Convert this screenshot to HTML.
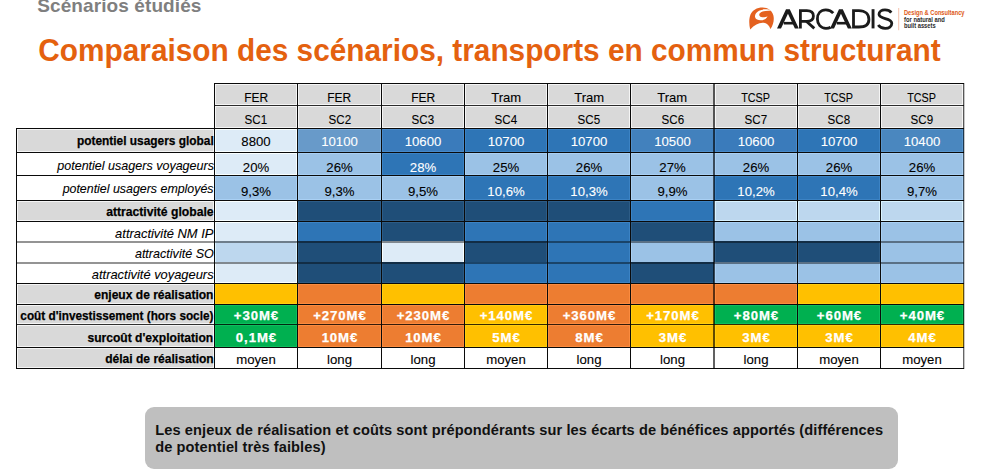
<!DOCTYPE html>
<html><head><meta charset="utf-8">
<style>
html,body{margin:0;padding:0;background:#fff;}
body{width:1000px;height:470px;position:relative;overflow:hidden;font-family:"Liberation Sans",sans-serif;}
#tbl div{position:absolute;}
#tbl .t{height:0;line-height:0;white-space:nowrap;-webkit-text-stroke:0.1px currentColor;}
#tbl .t span{display:inline-block;line-height:0;transform-origin:50% 0;}
#tbl .r span{transform-origin:100% 0;}
.abs{position:absolute;white-space:nowrap;line-height:0;height:0;top:0;}
.abs span{position:absolute;left:0;line-height:0;}
</style></head>
<body>
<div id="sub" class="abs" style="left:37.2px;font-size:19px;font-weight:bold;color:#7F7F7F;letter-spacing:0.1px;"><span style="top:6.12px">Scénarios étudiés</span></div>
<div id="title" class="abs" style="left:38.3px;font-size:29.8px;font-weight:bold;color:#E4610F;"><span style="top:51.27px;transform:scaleY(1.03);transform-origin:0 10.33px">Comparaison des scénarios, transports en commun structurant</span></div>

<svg style="position:absolute;left:0;top:0" width="1000" height="40" viewBox="0 0 1000 40">
  <path d="M750.2 29.4 C749 25 748.8 19 750.4 14.8 C752.2 10 757 7.4 762.6 7.4 C768 7.4 772.2 10.6 773.4 15.4 C774.4 19.6 773.4 25.2 770.4 28.9 C769.4 26 767.6 23.4 763.6 22.7 C759.5 22.2 754.6 24.6 750.2 29.4 Z" fill="#E4611F"/>
  <path d="M771.4 10.6 C768.5 9.2 763 8.7 759 10.7 C756 12.3 754.5 15 755.1 17.3 C755.8 19.7 758.6 20.5 761.2 20.3 C764.2 20.1 766.5 18.5 767.6 16.2 C765.9 17.2 763.2 17.7 761.2 17.1 C759.4 16.5 758.8 15 759.6 13.6 C760.6 11.9 763.2 11.2 765.6 11 C767.8 10.8 769.8 10.7 771.4 10.6 Z" fill="#fff"/>
  <g fill="#1b1b1b">
    <polygon points="777.0,28.4 786.0,9.2 789.8,9.2 798.8,28.4 794.9,28.4 787.95,13.7 781.0,28.4"/>
    <rect x="783.8" y="21.9" width="9.6" height="2.6"/>
    <polygon points="830.0,28.4 839.0,9.2 842.8,9.2 851.8,28.4 847.9,28.4 840.95,13.7 834.0,28.4"/>
    <rect x="836.8" y="21.9" width="11.2" height="2.6"/>
    <rect x="871.6" y="9.2" width="2.9" height="19.2"/>
  </g>
  <g fill="none" stroke="#1b1b1b" stroke-width="2.8">
    <path d="M800.4 28.4 L800.4 10.6 L806.8 10.6 C811.2 10.6 813.4 12.8 813.4 16 C813.4 19.2 811.2 21.3 806.8 21.3 L801.5 21.3"/>
    <path d="M806.3 21.3 L814.3 28.4"/>
    <path d="M833.2 13.2 C831.4 11 829 9.9 825.8 9.9 C820.6 9.9 817.4 13.8 817.4 19 C817.4 24.4 820.8 28.3 826 28.3 C827.8 28.3 829.4 27.9 830.6 27.2"/>
    <path d="M853.5 28.4 L853.5 10.6 L858.9 10.6 C865.3 10.6 868.9 14.4 868.9 19.4 C868.9 24.5 865.3 27.0 858.9 27.0 L852.2 27.0"/>
    <path d="M891.3 12.6 C889.8 10.6 887.5 9.9 885 9.9 C881.5 9.9 879 11.6 879 14.3 C879 19.8 891.8 17.4 891.8 23.3 C891.8 26.5 889 28.3 885.2 28.3 C882.2 28.3 879.7 27.1 878.2 25"/>
  </g>
  <rect x="898.2" y="8" width="1" height="22.2" fill="#F4C3AE"/>
  <text x="904" y="14.6" font-family="Liberation Sans" font-weight="bold" font-size="6.4" fill="#DD5814" textLength="60.5" lengthAdjust="spacingAndGlyphs">Design &amp; Consultancy</text>
  <text x="904" y="21.6" font-family="Liberation Sans" font-weight="bold" font-size="6.4" fill="#2a2a2a" textLength="40.8" lengthAdjust="spacingAndGlyphs">for natural and</text>
  <text x="904" y="27.8" font-family="Liberation Sans" font-weight="bold" font-size="6.4" fill="#2a2a2a" textLength="31.6" lengthAdjust="spacingAndGlyphs">built assets</text>
</svg>

<div id="tbl">
<div style="left:214px;top:83px;width:84px;height:23px;background:#D9D9D9;"></div>
<div style="left:215px;top:84px;width:82px;height:1px;background:#f5f5f5;"></div>
<div style="left:215px;top:104px;width:82px;height:1px;background:#f5f5f5;"></div>
<div style="left:215px;top:84px;width:1px;height:21px;background:#f5f5f5;"></div>
<div style="left:296px;top:84px;width:1px;height:21px;background:#f5f5f5;"></div>
<div style="left:214px;top:105px;width:84px;height:24px;background:#D9D9D9;"></div>
<div style="left:215px;top:106px;width:82px;height:1px;background:#f5f5f5;"></div>
<div style="left:215px;top:127px;width:82px;height:1px;background:#f5f5f5;"></div>
<div style="left:215px;top:106px;width:1px;height:22px;background:#f5f5f5;"></div>
<div style="left:296px;top:106px;width:1px;height:22px;background:#f5f5f5;"></div>
<div style="left:297px;top:83px;width:85px;height:23px;background:#D9D9D9;"></div>
<div style="left:298px;top:84px;width:83px;height:1px;background:#f5f5f5;"></div>
<div style="left:298px;top:104px;width:83px;height:1px;background:#f5f5f5;"></div>
<div style="left:298px;top:84px;width:1px;height:21px;background:#f5f5f5;"></div>
<div style="left:380px;top:84px;width:1px;height:21px;background:#f5f5f5;"></div>
<div style="left:297px;top:105px;width:85px;height:24px;background:#D9D9D9;"></div>
<div style="left:298px;top:106px;width:83px;height:1px;background:#f5f5f5;"></div>
<div style="left:298px;top:127px;width:83px;height:1px;background:#f5f5f5;"></div>
<div style="left:298px;top:106px;width:1px;height:22px;background:#f5f5f5;"></div>
<div style="left:380px;top:106px;width:1px;height:22px;background:#f5f5f5;"></div>
<div style="left:381px;top:83px;width:84px;height:23px;background:#D9D9D9;"></div>
<div style="left:382px;top:84px;width:82px;height:1px;background:#f5f5f5;"></div>
<div style="left:382px;top:104px;width:82px;height:1px;background:#f5f5f5;"></div>
<div style="left:382px;top:84px;width:1px;height:21px;background:#f5f5f5;"></div>
<div style="left:463px;top:84px;width:1px;height:21px;background:#f5f5f5;"></div>
<div style="left:381px;top:105px;width:84px;height:24px;background:#D9D9D9;"></div>
<div style="left:382px;top:106px;width:82px;height:1px;background:#f5f5f5;"></div>
<div style="left:382px;top:127px;width:82px;height:1px;background:#f5f5f5;"></div>
<div style="left:382px;top:106px;width:1px;height:22px;background:#f5f5f5;"></div>
<div style="left:463px;top:106px;width:1px;height:22px;background:#f5f5f5;"></div>
<div style="left:464px;top:83px;width:84px;height:23px;background:#D9D9D9;"></div>
<div style="left:465px;top:84px;width:82px;height:1px;background:#f5f5f5;"></div>
<div style="left:465px;top:104px;width:82px;height:1px;background:#f5f5f5;"></div>
<div style="left:465px;top:84px;width:1px;height:21px;background:#f5f5f5;"></div>
<div style="left:546px;top:84px;width:1px;height:21px;background:#f5f5f5;"></div>
<div style="left:464px;top:105px;width:84px;height:24px;background:#D9D9D9;"></div>
<div style="left:465px;top:106px;width:82px;height:1px;background:#f5f5f5;"></div>
<div style="left:465px;top:127px;width:82px;height:1px;background:#f5f5f5;"></div>
<div style="left:465px;top:106px;width:1px;height:22px;background:#f5f5f5;"></div>
<div style="left:546px;top:106px;width:1px;height:22px;background:#f5f5f5;"></div>
<div style="left:547px;top:83px;width:84px;height:23px;background:#D9D9D9;"></div>
<div style="left:548px;top:84px;width:82px;height:1px;background:#f5f5f5;"></div>
<div style="left:548px;top:104px;width:82px;height:1px;background:#f5f5f5;"></div>
<div style="left:548px;top:84px;width:1px;height:21px;background:#f5f5f5;"></div>
<div style="left:629px;top:84px;width:1px;height:21px;background:#f5f5f5;"></div>
<div style="left:547px;top:105px;width:84px;height:24px;background:#D9D9D9;"></div>
<div style="left:548px;top:106px;width:82px;height:1px;background:#f5f5f5;"></div>
<div style="left:548px;top:127px;width:82px;height:1px;background:#f5f5f5;"></div>
<div style="left:548px;top:106px;width:1px;height:22px;background:#f5f5f5;"></div>
<div style="left:629px;top:106px;width:1px;height:22px;background:#f5f5f5;"></div>
<div style="left:630px;top:83px;width:85px;height:23px;background:#D9D9D9;"></div>
<div style="left:631px;top:84px;width:83px;height:1px;background:#f5f5f5;"></div>
<div style="left:631px;top:104px;width:83px;height:1px;background:#f5f5f5;"></div>
<div style="left:631px;top:84px;width:1px;height:21px;background:#f5f5f5;"></div>
<div style="left:630px;top:105px;width:85px;height:24px;background:#D9D9D9;"></div>
<div style="left:631px;top:106px;width:83px;height:1px;background:#f5f5f5;"></div>
<div style="left:631px;top:127px;width:83px;height:1px;background:#f5f5f5;"></div>
<div style="left:631px;top:106px;width:1px;height:22px;background:#f5f5f5;"></div>
<div style="left:714px;top:83px;width:84px;height:23px;background:#D9D9D9;"></div>
<div style="left:715px;top:84px;width:82px;height:1px;background:#f5f5f5;"></div>
<div style="left:715px;top:104px;width:82px;height:1px;background:#f5f5f5;"></div>
<div style="left:715px;top:84px;width:1px;height:21px;background:#f5f5f5;"></div>
<div style="left:796px;top:84px;width:1px;height:21px;background:#f5f5f5;"></div>
<div style="left:714px;top:105px;width:84px;height:24px;background:#D9D9D9;"></div>
<div style="left:715px;top:106px;width:82px;height:1px;background:#f5f5f5;"></div>
<div style="left:715px;top:127px;width:82px;height:1px;background:#f5f5f5;"></div>
<div style="left:715px;top:106px;width:1px;height:22px;background:#f5f5f5;"></div>
<div style="left:796px;top:106px;width:1px;height:22px;background:#f5f5f5;"></div>
<div style="left:797px;top:83px;width:84px;height:23px;background:#D9D9D9;"></div>
<div style="left:798px;top:84px;width:82px;height:1px;background:#f5f5f5;"></div>
<div style="left:798px;top:104px;width:82px;height:1px;background:#f5f5f5;"></div>
<div style="left:798px;top:84px;width:1px;height:21px;background:#f5f5f5;"></div>
<div style="left:879px;top:84px;width:1px;height:21px;background:#f5f5f5;"></div>
<div style="left:797px;top:105px;width:84px;height:24px;background:#D9D9D9;"></div>
<div style="left:798px;top:106px;width:82px;height:1px;background:#f5f5f5;"></div>
<div style="left:798px;top:127px;width:82px;height:1px;background:#f5f5f5;"></div>
<div style="left:798px;top:106px;width:1px;height:22px;background:#f5f5f5;"></div>
<div style="left:879px;top:106px;width:1px;height:22px;background:#f5f5f5;"></div>
<div style="left:880px;top:83px;width:84px;height:23px;background:#D9D9D9;"></div>
<div style="left:881px;top:84px;width:82px;height:1px;background:#f5f5f5;"></div>
<div style="left:881px;top:104px;width:82px;height:1px;background:#f5f5f5;"></div>
<div style="left:881px;top:84px;width:1px;height:21px;background:#f5f5f5;"></div>
<div style="left:962px;top:84px;width:1px;height:21px;background:#f5f5f5;"></div>
<div style="left:880px;top:105px;width:84px;height:24px;background:#D9D9D9;"></div>
<div style="left:881px;top:106px;width:82px;height:1px;background:#f5f5f5;"></div>
<div style="left:881px;top:127px;width:82px;height:1px;background:#f5f5f5;"></div>
<div style="left:881px;top:106px;width:1px;height:22px;background:#f5f5f5;"></div>
<div style="left:962px;top:106px;width:1px;height:22px;background:#f5f5f5;"></div>
<div style="left:16px;top:128px;width:199px;height:25px;background:#D9D9D9;"></div>
<div style="left:17px;top:129px;width:197px;height:1px;background:#f5f5f5;"></div>
<div style="left:17px;top:151px;width:197px;height:1px;background:#f5f5f5;"></div>
<div style="left:17px;top:129px;width:1px;height:23px;background:#f5f5f5;"></div>
<div style="left:213px;top:129px;width:1px;height:23px;background:#f5f5f5;"></div>
<div style="left:214px;top:128px;width:84px;height:25px;background:#DDEBF7;"></div>
<div style="left:215px;top:129px;width:82px;height:1px;background:#f9ffff;"></div>
<div style="left:215px;top:151px;width:82px;height:1px;background:#f9ffff;"></div>
<div style="left:215px;top:129px;width:1px;height:23px;background:#f9ffff;"></div>
<div style="left:296px;top:129px;width:1px;height:23px;background:#f9ffff;"></div>
<div style="left:297px;top:128px;width:85px;height:25px;background:#689AC9;"></div>
<div style="left:298px;top:129px;width:83px;height:1px;background:#76a8d7;"></div>
<div style="left:298px;top:151px;width:83px;height:1px;background:#76a8d7;"></div>
<div style="left:298px;top:129px;width:1px;height:23px;background:#76a8d7;"></div>
<div style="left:380px;top:129px;width:1px;height:23px;background:#76a8d7;"></div>
<div style="left:381px;top:128px;width:84px;height:25px;background:#3A7BBB;"></div>
<div style="left:382px;top:129px;width:82px;height:1px;background:#4889c9;"></div>
<div style="left:382px;top:151px;width:82px;height:1px;background:#4889c9;"></div>
<div style="left:382px;top:129px;width:1px;height:23px;background:#4889c9;"></div>
<div style="left:463px;top:129px;width:1px;height:23px;background:#4889c9;"></div>
<div style="left:464px;top:128px;width:84px;height:25px;background:#2E75B6;"></div>
<div style="left:465px;top:129px;width:82px;height:1px;background:#3c83c4;"></div>
<div style="left:465px;top:151px;width:82px;height:1px;background:#3c83c4;"></div>
<div style="left:465px;top:129px;width:1px;height:23px;background:#3c83c4;"></div>
<div style="left:546px;top:129px;width:1px;height:23px;background:#3c83c4;"></div>
<div style="left:547px;top:128px;width:84px;height:25px;background:#2E75B6;"></div>
<div style="left:548px;top:129px;width:82px;height:1px;background:#3c83c4;"></div>
<div style="left:548px;top:151px;width:82px;height:1px;background:#3c83c4;"></div>
<div style="left:548px;top:129px;width:1px;height:23px;background:#3c83c4;"></div>
<div style="left:629px;top:129px;width:1px;height:23px;background:#3c83c4;"></div>
<div style="left:630px;top:128px;width:85px;height:25px;background:#4281BD;"></div>
<div style="left:631px;top:129px;width:83px;height:1px;background:#508fcb;"></div>
<div style="left:631px;top:151px;width:83px;height:1px;background:#508fcb;"></div>
<div style="left:631px;top:129px;width:1px;height:23px;background:#508fcb;"></div>
<div style="left:714px;top:128px;width:84px;height:25px;background:#3A7BBB;"></div>
<div style="left:715px;top:129px;width:82px;height:1px;background:#4889c9;"></div>
<div style="left:715px;top:151px;width:82px;height:1px;background:#4889c9;"></div>
<div style="left:715px;top:129px;width:1px;height:23px;background:#4889c9;"></div>
<div style="left:796px;top:129px;width:1px;height:23px;background:#4889c9;"></div>
<div style="left:797px;top:128px;width:84px;height:25px;background:#2E75B6;"></div>
<div style="left:798px;top:129px;width:82px;height:1px;background:#3c83c4;"></div>
<div style="left:798px;top:151px;width:82px;height:1px;background:#3c83c4;"></div>
<div style="left:798px;top:129px;width:1px;height:23px;background:#3c83c4;"></div>
<div style="left:879px;top:129px;width:1px;height:23px;background:#3c83c4;"></div>
<div style="left:880px;top:128px;width:84px;height:25px;background:#4A87BF;"></div>
<div style="left:881px;top:129px;width:82px;height:1px;background:#5895cd;"></div>
<div style="left:881px;top:151px;width:82px;height:1px;background:#5895cd;"></div>
<div style="left:881px;top:129px;width:1px;height:23px;background:#5895cd;"></div>
<div style="left:962px;top:129px;width:1px;height:23px;background:#5895cd;"></div>
<div style="left:214px;top:152px;width:84px;height:24px;background:#DDEBF7;"></div>
<div style="left:215px;top:153px;width:82px;height:1px;background:#f9ffff;"></div>
<div style="left:215px;top:174px;width:82px;height:1px;background:#f9ffff;"></div>
<div style="left:215px;top:153px;width:1px;height:22px;background:#f9ffff;"></div>
<div style="left:296px;top:153px;width:1px;height:22px;background:#f9ffff;"></div>
<div style="left:297px;top:152px;width:85px;height:24px;background:#9BC2E6;"></div>
<div style="left:298px;top:153px;width:83px;height:1px;background:#a9d0f4;"></div>
<div style="left:298px;top:174px;width:83px;height:1px;background:#a9d0f4;"></div>
<div style="left:298px;top:153px;width:1px;height:22px;background:#a9d0f4;"></div>
<div style="left:380px;top:153px;width:1px;height:22px;background:#a9d0f4;"></div>
<div style="left:381px;top:152px;width:84px;height:24px;background:#2E75B6;"></div>
<div style="left:382px;top:153px;width:82px;height:1px;background:#3c83c4;"></div>
<div style="left:382px;top:174px;width:82px;height:1px;background:#3c83c4;"></div>
<div style="left:382px;top:153px;width:1px;height:22px;background:#3c83c4;"></div>
<div style="left:463px;top:153px;width:1px;height:22px;background:#3c83c4;"></div>
<div style="left:464px;top:152px;width:84px;height:24px;background:#9BC2E6;"></div>
<div style="left:465px;top:153px;width:82px;height:1px;background:#a9d0f4;"></div>
<div style="left:465px;top:174px;width:82px;height:1px;background:#a9d0f4;"></div>
<div style="left:465px;top:153px;width:1px;height:22px;background:#a9d0f4;"></div>
<div style="left:546px;top:153px;width:1px;height:22px;background:#a9d0f4;"></div>
<div style="left:547px;top:152px;width:84px;height:24px;background:#9BC2E6;"></div>
<div style="left:548px;top:153px;width:82px;height:1px;background:#a9d0f4;"></div>
<div style="left:548px;top:174px;width:82px;height:1px;background:#a9d0f4;"></div>
<div style="left:548px;top:153px;width:1px;height:22px;background:#a9d0f4;"></div>
<div style="left:629px;top:153px;width:1px;height:22px;background:#a9d0f4;"></div>
<div style="left:630px;top:152px;width:85px;height:24px;background:#9BC2E6;"></div>
<div style="left:631px;top:153px;width:83px;height:1px;background:#a9d0f4;"></div>
<div style="left:631px;top:174px;width:83px;height:1px;background:#a9d0f4;"></div>
<div style="left:631px;top:153px;width:1px;height:22px;background:#a9d0f4;"></div>
<div style="left:714px;top:152px;width:84px;height:24px;background:#9BC2E6;"></div>
<div style="left:715px;top:153px;width:82px;height:1px;background:#a9d0f4;"></div>
<div style="left:715px;top:174px;width:82px;height:1px;background:#a9d0f4;"></div>
<div style="left:715px;top:153px;width:1px;height:22px;background:#a9d0f4;"></div>
<div style="left:796px;top:153px;width:1px;height:22px;background:#a9d0f4;"></div>
<div style="left:797px;top:152px;width:84px;height:24px;background:#9BC2E6;"></div>
<div style="left:798px;top:153px;width:82px;height:1px;background:#a9d0f4;"></div>
<div style="left:798px;top:174px;width:82px;height:1px;background:#a9d0f4;"></div>
<div style="left:798px;top:153px;width:1px;height:22px;background:#a9d0f4;"></div>
<div style="left:879px;top:153px;width:1px;height:22px;background:#a9d0f4;"></div>
<div style="left:880px;top:152px;width:84px;height:24px;background:#9BC2E6;"></div>
<div style="left:881px;top:153px;width:82px;height:1px;background:#a9d0f4;"></div>
<div style="left:881px;top:174px;width:82px;height:1px;background:#a9d0f4;"></div>
<div style="left:881px;top:153px;width:1px;height:22px;background:#a9d0f4;"></div>
<div style="left:962px;top:153px;width:1px;height:22px;background:#a9d0f4;"></div>
<div style="left:214px;top:175px;width:84px;height:26px;background:#9BC2E6;"></div>
<div style="left:215px;top:176px;width:82px;height:1px;background:#a9d0f4;"></div>
<div style="left:215px;top:199px;width:82px;height:1px;background:#a9d0f4;"></div>
<div style="left:215px;top:176px;width:1px;height:24px;background:#a9d0f4;"></div>
<div style="left:296px;top:176px;width:1px;height:24px;background:#a9d0f4;"></div>
<div style="left:297px;top:175px;width:85px;height:26px;background:#9BC2E6;"></div>
<div style="left:298px;top:176px;width:83px;height:1px;background:#a9d0f4;"></div>
<div style="left:298px;top:199px;width:83px;height:1px;background:#a9d0f4;"></div>
<div style="left:298px;top:176px;width:1px;height:24px;background:#a9d0f4;"></div>
<div style="left:380px;top:176px;width:1px;height:24px;background:#a9d0f4;"></div>
<div style="left:381px;top:175px;width:84px;height:26px;background:#9BC2E6;"></div>
<div style="left:382px;top:176px;width:82px;height:1px;background:#a9d0f4;"></div>
<div style="left:382px;top:199px;width:82px;height:1px;background:#a9d0f4;"></div>
<div style="left:382px;top:176px;width:1px;height:24px;background:#a9d0f4;"></div>
<div style="left:463px;top:176px;width:1px;height:24px;background:#a9d0f4;"></div>
<div style="left:464px;top:175px;width:84px;height:26px;background:#2E75B6;"></div>
<div style="left:465px;top:176px;width:82px;height:1px;background:#3c83c4;"></div>
<div style="left:465px;top:199px;width:82px;height:1px;background:#3c83c4;"></div>
<div style="left:465px;top:176px;width:1px;height:24px;background:#3c83c4;"></div>
<div style="left:546px;top:176px;width:1px;height:24px;background:#3c83c4;"></div>
<div style="left:547px;top:175px;width:84px;height:26px;background:#2E75B6;"></div>
<div style="left:548px;top:176px;width:82px;height:1px;background:#3c83c4;"></div>
<div style="left:548px;top:199px;width:82px;height:1px;background:#3c83c4;"></div>
<div style="left:548px;top:176px;width:1px;height:24px;background:#3c83c4;"></div>
<div style="left:629px;top:176px;width:1px;height:24px;background:#3c83c4;"></div>
<div style="left:630px;top:175px;width:85px;height:26px;background:#9BC2E6;"></div>
<div style="left:631px;top:176px;width:83px;height:1px;background:#a9d0f4;"></div>
<div style="left:631px;top:199px;width:83px;height:1px;background:#a9d0f4;"></div>
<div style="left:631px;top:176px;width:1px;height:24px;background:#a9d0f4;"></div>
<div style="left:714px;top:175px;width:84px;height:26px;background:#2E75B6;"></div>
<div style="left:715px;top:176px;width:82px;height:1px;background:#3c83c4;"></div>
<div style="left:715px;top:199px;width:82px;height:1px;background:#3c83c4;"></div>
<div style="left:715px;top:176px;width:1px;height:24px;background:#3c83c4;"></div>
<div style="left:796px;top:176px;width:1px;height:24px;background:#3c83c4;"></div>
<div style="left:797px;top:175px;width:84px;height:26px;background:#2E75B6;"></div>
<div style="left:798px;top:176px;width:82px;height:1px;background:#3c83c4;"></div>
<div style="left:798px;top:199px;width:82px;height:1px;background:#3c83c4;"></div>
<div style="left:798px;top:176px;width:1px;height:24px;background:#3c83c4;"></div>
<div style="left:879px;top:176px;width:1px;height:24px;background:#3c83c4;"></div>
<div style="left:880px;top:175px;width:84px;height:26px;background:#9BC2E6;"></div>
<div style="left:881px;top:176px;width:82px;height:1px;background:#a9d0f4;"></div>
<div style="left:881px;top:199px;width:82px;height:1px;background:#a9d0f4;"></div>
<div style="left:881px;top:176px;width:1px;height:24px;background:#a9d0f4;"></div>
<div style="left:962px;top:176px;width:1px;height:24px;background:#a9d0f4;"></div>
<div style="left:16px;top:200px;width:199px;height:22px;background:#D9D9D9;"></div>
<div style="left:17px;top:201px;width:197px;height:1px;background:#f5f5f5;"></div>
<div style="left:17px;top:220px;width:197px;height:1px;background:#f5f5f5;"></div>
<div style="left:17px;top:201px;width:1px;height:20px;background:#f5f5f5;"></div>
<div style="left:213px;top:201px;width:1px;height:20px;background:#f5f5f5;"></div>
<div style="left:214px;top:200px;width:84px;height:22px;background:#DDEBF7;"></div>
<div style="left:215px;top:201px;width:82px;height:1px;background:#f9ffff;"></div>
<div style="left:215px;top:220px;width:82px;height:1px;background:#f9ffff;"></div>
<div style="left:215px;top:201px;width:1px;height:20px;background:#f9ffff;"></div>
<div style="left:296px;top:201px;width:1px;height:20px;background:#f9ffff;"></div>
<div style="left:297px;top:200px;width:85px;height:22px;background:#1F4E78;"></div>
<div style="left:298px;top:201px;width:83px;height:1px;background:#2d5c86;"></div>
<div style="left:298px;top:220px;width:83px;height:1px;background:#2d5c86;"></div>
<div style="left:298px;top:201px;width:1px;height:20px;background:#2d5c86;"></div>
<div style="left:380px;top:201px;width:1px;height:20px;background:#2d5c86;"></div>
<div style="left:381px;top:200px;width:84px;height:22px;background:#1F4E78;"></div>
<div style="left:382px;top:201px;width:82px;height:1px;background:#2d5c86;"></div>
<div style="left:382px;top:220px;width:82px;height:1px;background:#2d5c86;"></div>
<div style="left:382px;top:201px;width:1px;height:20px;background:#2d5c86;"></div>
<div style="left:463px;top:201px;width:1px;height:20px;background:#2d5c86;"></div>
<div style="left:464px;top:200px;width:84px;height:22px;background:#1F4E78;"></div>
<div style="left:465px;top:201px;width:82px;height:1px;background:#2d5c86;"></div>
<div style="left:465px;top:220px;width:82px;height:1px;background:#2d5c86;"></div>
<div style="left:465px;top:201px;width:1px;height:20px;background:#2d5c86;"></div>
<div style="left:546px;top:201px;width:1px;height:20px;background:#2d5c86;"></div>
<div style="left:547px;top:200px;width:84px;height:22px;background:#1F4E78;"></div>
<div style="left:548px;top:201px;width:82px;height:1px;background:#2d5c86;"></div>
<div style="left:548px;top:220px;width:82px;height:1px;background:#2d5c86;"></div>
<div style="left:548px;top:201px;width:1px;height:20px;background:#2d5c86;"></div>
<div style="left:629px;top:201px;width:1px;height:20px;background:#2d5c86;"></div>
<div style="left:630px;top:200px;width:85px;height:22px;background:#2E75B6;"></div>
<div style="left:631px;top:201px;width:83px;height:1px;background:#3c83c4;"></div>
<div style="left:631px;top:220px;width:83px;height:1px;background:#3c83c4;"></div>
<div style="left:631px;top:201px;width:1px;height:20px;background:#3c83c4;"></div>
<div style="left:714px;top:200px;width:84px;height:22px;background:#BDD7EE;"></div>
<div style="left:715px;top:201px;width:82px;height:1px;background:#d9f3ff;"></div>
<div style="left:715px;top:220px;width:82px;height:1px;background:#d9f3ff;"></div>
<div style="left:715px;top:201px;width:1px;height:20px;background:#d9f3ff;"></div>
<div style="left:796px;top:201px;width:1px;height:20px;background:#d9f3ff;"></div>
<div style="left:797px;top:200px;width:84px;height:22px;background:#BDD7EE;"></div>
<div style="left:798px;top:201px;width:82px;height:1px;background:#d9f3ff;"></div>
<div style="left:798px;top:220px;width:82px;height:1px;background:#d9f3ff;"></div>
<div style="left:798px;top:201px;width:1px;height:20px;background:#d9f3ff;"></div>
<div style="left:879px;top:201px;width:1px;height:20px;background:#d9f3ff;"></div>
<div style="left:880px;top:200px;width:84px;height:22px;background:#BDD7EE;"></div>
<div style="left:881px;top:201px;width:82px;height:1px;background:#d9f3ff;"></div>
<div style="left:881px;top:220px;width:82px;height:1px;background:#d9f3ff;"></div>
<div style="left:881px;top:201px;width:1px;height:20px;background:#d9f3ff;"></div>
<div style="left:962px;top:201px;width:1px;height:20px;background:#d9f3ff;"></div>
<div style="left:214px;top:221px;width:84px;height:21px;background:#DDEBF7;"></div>
<div style="left:215px;top:222px;width:82px;height:1px;background:#f9ffff;"></div>
<div style="left:215px;top:222px;width:1px;height:19px;background:#f9ffff;"></div>
<div style="left:296px;top:222px;width:1px;height:19px;background:#f9ffff;"></div>
<div style="left:297px;top:221px;width:85px;height:21px;background:#2E75B6;"></div>
<div style="left:298px;top:222px;width:83px;height:1px;background:#3c83c4;"></div>
<div style="left:298px;top:222px;width:1px;height:19px;background:#3c83c4;"></div>
<div style="left:380px;top:222px;width:1px;height:19px;background:#3c83c4;"></div>
<div style="left:381px;top:221px;width:84px;height:21px;background:#1F4E78;"></div>
<div style="left:382px;top:222px;width:82px;height:1px;background:#2d5c86;"></div>
<div style="left:382px;top:222px;width:1px;height:19px;background:#2d5c86;"></div>
<div style="left:463px;top:222px;width:1px;height:19px;background:#2d5c86;"></div>
<div style="left:464px;top:221px;width:84px;height:21px;background:#2E75B6;"></div>
<div style="left:465px;top:222px;width:82px;height:1px;background:#3c83c4;"></div>
<div style="left:465px;top:222px;width:1px;height:19px;background:#3c83c4;"></div>
<div style="left:546px;top:222px;width:1px;height:19px;background:#3c83c4;"></div>
<div style="left:547px;top:221px;width:84px;height:21px;background:#2E75B6;"></div>
<div style="left:548px;top:222px;width:82px;height:1px;background:#3c83c4;"></div>
<div style="left:548px;top:222px;width:1px;height:19px;background:#3c83c4;"></div>
<div style="left:629px;top:222px;width:1px;height:19px;background:#3c83c4;"></div>
<div style="left:630px;top:221px;width:85px;height:21px;background:#1F4E78;"></div>
<div style="left:631px;top:222px;width:83px;height:1px;background:#2d5c86;"></div>
<div style="left:631px;top:222px;width:1px;height:19px;background:#2d5c86;"></div>
<div style="left:714px;top:221px;width:84px;height:21px;background:#9BC2E6;"></div>
<div style="left:715px;top:222px;width:82px;height:1px;background:#a9d0f4;"></div>
<div style="left:715px;top:222px;width:1px;height:19px;background:#a9d0f4;"></div>
<div style="left:796px;top:222px;width:1px;height:19px;background:#a9d0f4;"></div>
<div style="left:797px;top:221px;width:84px;height:21px;background:#9BC2E6;"></div>
<div style="left:798px;top:222px;width:82px;height:1px;background:#a9d0f4;"></div>
<div style="left:798px;top:222px;width:1px;height:19px;background:#a9d0f4;"></div>
<div style="left:879px;top:222px;width:1px;height:19px;background:#a9d0f4;"></div>
<div style="left:880px;top:221px;width:84px;height:21px;background:#9BC2E6;"></div>
<div style="left:881px;top:222px;width:82px;height:1px;background:#a9d0f4;"></div>
<div style="left:881px;top:222px;width:1px;height:19px;background:#a9d0f4;"></div>
<div style="left:962px;top:222px;width:1px;height:19px;background:#a9d0f4;"></div>
<div style="left:214px;top:241px;width:84px;height:22px;background:#BDD7EE;"></div>
<div style="left:215px;top:242px;width:1px;height:20px;background:#d9f3ff;"></div>
<div style="left:296px;top:242px;width:1px;height:20px;background:#d9f3ff;"></div>
<div style="left:297px;top:241px;width:85px;height:22px;background:#1F4E78;"></div>
<div style="left:298px;top:242px;width:1px;height:20px;background:#2d5c86;"></div>
<div style="left:380px;top:242px;width:1px;height:20px;background:#2d5c86;"></div>
<div style="left:381px;top:241px;width:84px;height:22px;background:#DDEBF7;"></div>
<div style="left:382px;top:242px;width:1px;height:20px;background:#f9ffff;"></div>
<div style="left:463px;top:242px;width:1px;height:20px;background:#f9ffff;"></div>
<div style="left:464px;top:241px;width:84px;height:22px;background:#1F4E78;"></div>
<div style="left:465px;top:242px;width:1px;height:20px;background:#2d5c86;"></div>
<div style="left:546px;top:242px;width:1px;height:20px;background:#2d5c86;"></div>
<div style="left:547px;top:241px;width:84px;height:22px;background:#2E75B6;"></div>
<div style="left:548px;top:242px;width:1px;height:20px;background:#3c83c4;"></div>
<div style="left:629px;top:242px;width:1px;height:20px;background:#3c83c4;"></div>
<div style="left:630px;top:241px;width:85px;height:22px;background:#9BC2E6;"></div>
<div style="left:631px;top:242px;width:1px;height:20px;background:#a9d0f4;"></div>
<div style="left:714px;top:241px;width:84px;height:22px;background:#1F4E78;"></div>
<div style="left:715px;top:242px;width:1px;height:20px;background:#2d5c86;"></div>
<div style="left:796px;top:242px;width:1px;height:20px;background:#2d5c86;"></div>
<div style="left:797px;top:241px;width:84px;height:22px;background:#1F4E78;"></div>
<div style="left:798px;top:242px;width:1px;height:20px;background:#2d5c86;"></div>
<div style="left:879px;top:242px;width:1px;height:20px;background:#2d5c86;"></div>
<div style="left:880px;top:241px;width:84px;height:22px;background:#9BC2E6;"></div>
<div style="left:881px;top:242px;width:1px;height:20px;background:#a9d0f4;"></div>
<div style="left:962px;top:242px;width:1px;height:20px;background:#a9d0f4;"></div>
<div style="left:214px;top:262px;width:84px;height:22px;background:#DDEBF7;"></div>
<div style="left:215px;top:282px;width:82px;height:1px;background:#f9ffff;"></div>
<div style="left:215px;top:263px;width:1px;height:20px;background:#f9ffff;"></div>
<div style="left:296px;top:263px;width:1px;height:20px;background:#f9ffff;"></div>
<div style="left:297px;top:262px;width:85px;height:22px;background:#1F4E78;"></div>
<div style="left:298px;top:282px;width:83px;height:1px;background:#2d5c86;"></div>
<div style="left:298px;top:263px;width:1px;height:20px;background:#2d5c86;"></div>
<div style="left:380px;top:263px;width:1px;height:20px;background:#2d5c86;"></div>
<div style="left:381px;top:262px;width:84px;height:22px;background:#1F4E78;"></div>
<div style="left:382px;top:282px;width:82px;height:1px;background:#2d5c86;"></div>
<div style="left:382px;top:263px;width:1px;height:20px;background:#2d5c86;"></div>
<div style="left:463px;top:263px;width:1px;height:20px;background:#2d5c86;"></div>
<div style="left:464px;top:262px;width:84px;height:22px;background:#2E75B6;"></div>
<div style="left:465px;top:282px;width:82px;height:1px;background:#3c83c4;"></div>
<div style="left:465px;top:263px;width:1px;height:20px;background:#3c83c4;"></div>
<div style="left:546px;top:263px;width:1px;height:20px;background:#3c83c4;"></div>
<div style="left:547px;top:262px;width:84px;height:22px;background:#2E75B6;"></div>
<div style="left:548px;top:282px;width:82px;height:1px;background:#3c83c4;"></div>
<div style="left:548px;top:263px;width:1px;height:20px;background:#3c83c4;"></div>
<div style="left:629px;top:263px;width:1px;height:20px;background:#3c83c4;"></div>
<div style="left:630px;top:262px;width:85px;height:22px;background:#1F4E78;"></div>
<div style="left:631px;top:282px;width:83px;height:1px;background:#2d5c86;"></div>
<div style="left:631px;top:263px;width:1px;height:20px;background:#2d5c86;"></div>
<div style="left:714px;top:262px;width:84px;height:22px;background:#9BC2E6;"></div>
<div style="left:715px;top:282px;width:82px;height:1px;background:#a9d0f4;"></div>
<div style="left:715px;top:263px;width:1px;height:20px;background:#a9d0f4;"></div>
<div style="left:796px;top:263px;width:1px;height:20px;background:#a9d0f4;"></div>
<div style="left:797px;top:262px;width:84px;height:22px;background:#9BC2E6;"></div>
<div style="left:798px;top:282px;width:82px;height:1px;background:#a9d0f4;"></div>
<div style="left:798px;top:263px;width:1px;height:20px;background:#a9d0f4;"></div>
<div style="left:879px;top:263px;width:1px;height:20px;background:#a9d0f4;"></div>
<div style="left:880px;top:262px;width:84px;height:22px;background:#9BC2E6;"></div>
<div style="left:881px;top:282px;width:82px;height:1px;background:#a9d0f4;"></div>
<div style="left:881px;top:263px;width:1px;height:20px;background:#a9d0f4;"></div>
<div style="left:962px;top:263px;width:1px;height:20px;background:#a9d0f4;"></div>
<div style="left:16px;top:283px;width:199px;height:22px;background:#D9D9D9;"></div>
<div style="left:17px;top:284px;width:197px;height:1px;background:#f5f5f5;"></div>
<div style="left:17px;top:303px;width:197px;height:1px;background:#f5f5f5;"></div>
<div style="left:17px;top:284px;width:1px;height:20px;background:#f5f5f5;"></div>
<div style="left:213px;top:284px;width:1px;height:20px;background:#f5f5f5;"></div>
<div style="left:214px;top:283px;width:84px;height:22px;background:#FFC000;"></div>
<div style="left:215px;top:284px;width:82px;height:1px;background:#ffce0e;"></div>
<div style="left:215px;top:303px;width:82px;height:1px;background:#ffce0e;"></div>
<div style="left:215px;top:284px;width:1px;height:20px;background:#ffce0e;"></div>
<div style="left:296px;top:284px;width:1px;height:20px;background:#ffce0e;"></div>
<div style="left:297px;top:283px;width:85px;height:22px;background:#ED7D31;"></div>
<div style="left:298px;top:284px;width:83px;height:1px;background:#fb8b3f;"></div>
<div style="left:298px;top:303px;width:83px;height:1px;background:#fb8b3f;"></div>
<div style="left:298px;top:284px;width:1px;height:20px;background:#fb8b3f;"></div>
<div style="left:380px;top:284px;width:1px;height:20px;background:#fb8b3f;"></div>
<div style="left:381px;top:283px;width:84px;height:22px;background:#FFC000;"></div>
<div style="left:382px;top:284px;width:82px;height:1px;background:#ffce0e;"></div>
<div style="left:382px;top:303px;width:82px;height:1px;background:#ffce0e;"></div>
<div style="left:382px;top:284px;width:1px;height:20px;background:#ffce0e;"></div>
<div style="left:463px;top:284px;width:1px;height:20px;background:#ffce0e;"></div>
<div style="left:464px;top:283px;width:84px;height:22px;background:#ED7D31;"></div>
<div style="left:465px;top:284px;width:82px;height:1px;background:#fb8b3f;"></div>
<div style="left:465px;top:303px;width:82px;height:1px;background:#fb8b3f;"></div>
<div style="left:465px;top:284px;width:1px;height:20px;background:#fb8b3f;"></div>
<div style="left:546px;top:284px;width:1px;height:20px;background:#fb8b3f;"></div>
<div style="left:547px;top:283px;width:84px;height:22px;background:#ED7D31;"></div>
<div style="left:548px;top:284px;width:82px;height:1px;background:#fb8b3f;"></div>
<div style="left:548px;top:303px;width:82px;height:1px;background:#fb8b3f;"></div>
<div style="left:548px;top:284px;width:1px;height:20px;background:#fb8b3f;"></div>
<div style="left:629px;top:284px;width:1px;height:20px;background:#fb8b3f;"></div>
<div style="left:630px;top:283px;width:85px;height:22px;background:#ED7D31;"></div>
<div style="left:631px;top:284px;width:83px;height:1px;background:#fb8b3f;"></div>
<div style="left:631px;top:303px;width:83px;height:1px;background:#fb8b3f;"></div>
<div style="left:631px;top:284px;width:1px;height:20px;background:#fb8b3f;"></div>
<div style="left:714px;top:283px;width:84px;height:22px;background:#ED7D31;"></div>
<div style="left:715px;top:284px;width:82px;height:1px;background:#fb8b3f;"></div>
<div style="left:715px;top:303px;width:82px;height:1px;background:#fb8b3f;"></div>
<div style="left:715px;top:284px;width:1px;height:20px;background:#fb8b3f;"></div>
<div style="left:796px;top:284px;width:1px;height:20px;background:#fb8b3f;"></div>
<div style="left:797px;top:283px;width:84px;height:22px;background:#FFC000;"></div>
<div style="left:798px;top:284px;width:82px;height:1px;background:#ffce0e;"></div>
<div style="left:798px;top:303px;width:82px;height:1px;background:#ffce0e;"></div>
<div style="left:798px;top:284px;width:1px;height:20px;background:#ffce0e;"></div>
<div style="left:879px;top:284px;width:1px;height:20px;background:#ffce0e;"></div>
<div style="left:880px;top:283px;width:84px;height:22px;background:#FFC000;"></div>
<div style="left:881px;top:284px;width:82px;height:1px;background:#ffce0e;"></div>
<div style="left:881px;top:303px;width:82px;height:1px;background:#ffce0e;"></div>
<div style="left:881px;top:284px;width:1px;height:20px;background:#ffce0e;"></div>
<div style="left:962px;top:284px;width:1px;height:20px;background:#ffce0e;"></div>
<div style="left:16px;top:304px;width:199px;height:21px;background:#D9D9D9;"></div>
<div style="left:17px;top:305px;width:197px;height:1px;background:#f5f5f5;"></div>
<div style="left:17px;top:323px;width:197px;height:1px;background:#f5f5f5;"></div>
<div style="left:17px;top:305px;width:1px;height:19px;background:#f5f5f5;"></div>
<div style="left:213px;top:305px;width:1px;height:19px;background:#f5f5f5;"></div>
<div style="left:214px;top:304px;width:84px;height:21px;background:#00B050;"></div>
<div style="left:215px;top:305px;width:82px;height:1px;background:#0ebe5e;"></div>
<div style="left:215px;top:323px;width:82px;height:1px;background:#0ebe5e;"></div>
<div style="left:215px;top:305px;width:1px;height:19px;background:#0ebe5e;"></div>
<div style="left:296px;top:305px;width:1px;height:19px;background:#0ebe5e;"></div>
<div style="left:297px;top:304px;width:85px;height:21px;background:#ED7D31;"></div>
<div style="left:298px;top:305px;width:83px;height:1px;background:#fb8b3f;"></div>
<div style="left:298px;top:323px;width:83px;height:1px;background:#fb8b3f;"></div>
<div style="left:298px;top:305px;width:1px;height:19px;background:#fb8b3f;"></div>
<div style="left:380px;top:305px;width:1px;height:19px;background:#fb8b3f;"></div>
<div style="left:381px;top:304px;width:84px;height:21px;background:#ED7D31;"></div>
<div style="left:382px;top:305px;width:82px;height:1px;background:#fb8b3f;"></div>
<div style="left:382px;top:323px;width:82px;height:1px;background:#fb8b3f;"></div>
<div style="left:382px;top:305px;width:1px;height:19px;background:#fb8b3f;"></div>
<div style="left:463px;top:305px;width:1px;height:19px;background:#fb8b3f;"></div>
<div style="left:464px;top:304px;width:84px;height:21px;background:#FFC000;"></div>
<div style="left:465px;top:305px;width:82px;height:1px;background:#ffce0e;"></div>
<div style="left:465px;top:323px;width:82px;height:1px;background:#ffce0e;"></div>
<div style="left:465px;top:305px;width:1px;height:19px;background:#ffce0e;"></div>
<div style="left:546px;top:305px;width:1px;height:19px;background:#ffce0e;"></div>
<div style="left:547px;top:304px;width:84px;height:21px;background:#ED7D31;"></div>
<div style="left:548px;top:305px;width:82px;height:1px;background:#fb8b3f;"></div>
<div style="left:548px;top:323px;width:82px;height:1px;background:#fb8b3f;"></div>
<div style="left:548px;top:305px;width:1px;height:19px;background:#fb8b3f;"></div>
<div style="left:629px;top:305px;width:1px;height:19px;background:#fb8b3f;"></div>
<div style="left:630px;top:304px;width:85px;height:21px;background:#FFC000;"></div>
<div style="left:631px;top:305px;width:83px;height:1px;background:#ffce0e;"></div>
<div style="left:631px;top:323px;width:83px;height:1px;background:#ffce0e;"></div>
<div style="left:631px;top:305px;width:1px;height:19px;background:#ffce0e;"></div>
<div style="left:714px;top:304px;width:84px;height:21px;background:#00B050;"></div>
<div style="left:715px;top:305px;width:82px;height:1px;background:#0ebe5e;"></div>
<div style="left:715px;top:323px;width:82px;height:1px;background:#0ebe5e;"></div>
<div style="left:715px;top:305px;width:1px;height:19px;background:#0ebe5e;"></div>
<div style="left:796px;top:305px;width:1px;height:19px;background:#0ebe5e;"></div>
<div style="left:797px;top:304px;width:84px;height:21px;background:#00B050;"></div>
<div style="left:798px;top:305px;width:82px;height:1px;background:#0ebe5e;"></div>
<div style="left:798px;top:323px;width:82px;height:1px;background:#0ebe5e;"></div>
<div style="left:798px;top:305px;width:1px;height:19px;background:#0ebe5e;"></div>
<div style="left:879px;top:305px;width:1px;height:19px;background:#0ebe5e;"></div>
<div style="left:880px;top:304px;width:84px;height:21px;background:#00B050;"></div>
<div style="left:881px;top:305px;width:82px;height:1px;background:#0ebe5e;"></div>
<div style="left:881px;top:323px;width:82px;height:1px;background:#0ebe5e;"></div>
<div style="left:881px;top:305px;width:1px;height:19px;background:#0ebe5e;"></div>
<div style="left:962px;top:305px;width:1px;height:19px;background:#0ebe5e;"></div>
<div style="left:16px;top:324px;width:199px;height:24px;background:#D9D9D9;"></div>
<div style="left:17px;top:325px;width:197px;height:1px;background:#f5f5f5;"></div>
<div style="left:17px;top:346px;width:197px;height:1px;background:#f5f5f5;"></div>
<div style="left:17px;top:325px;width:1px;height:22px;background:#f5f5f5;"></div>
<div style="left:213px;top:325px;width:1px;height:22px;background:#f5f5f5;"></div>
<div style="left:214px;top:324px;width:84px;height:24px;background:#00B050;"></div>
<div style="left:215px;top:325px;width:82px;height:1px;background:#0ebe5e;"></div>
<div style="left:215px;top:346px;width:82px;height:1px;background:#0ebe5e;"></div>
<div style="left:215px;top:325px;width:1px;height:22px;background:#0ebe5e;"></div>
<div style="left:296px;top:325px;width:1px;height:22px;background:#0ebe5e;"></div>
<div style="left:297px;top:324px;width:85px;height:24px;background:#ED7D31;"></div>
<div style="left:298px;top:325px;width:83px;height:1px;background:#fb8b3f;"></div>
<div style="left:298px;top:346px;width:83px;height:1px;background:#fb8b3f;"></div>
<div style="left:298px;top:325px;width:1px;height:22px;background:#fb8b3f;"></div>
<div style="left:380px;top:325px;width:1px;height:22px;background:#fb8b3f;"></div>
<div style="left:381px;top:324px;width:84px;height:24px;background:#ED7D31;"></div>
<div style="left:382px;top:325px;width:82px;height:1px;background:#fb8b3f;"></div>
<div style="left:382px;top:346px;width:82px;height:1px;background:#fb8b3f;"></div>
<div style="left:382px;top:325px;width:1px;height:22px;background:#fb8b3f;"></div>
<div style="left:463px;top:325px;width:1px;height:22px;background:#fb8b3f;"></div>
<div style="left:464px;top:324px;width:84px;height:24px;background:#FFC000;"></div>
<div style="left:465px;top:325px;width:82px;height:1px;background:#ffce0e;"></div>
<div style="left:465px;top:346px;width:82px;height:1px;background:#ffce0e;"></div>
<div style="left:465px;top:325px;width:1px;height:22px;background:#ffce0e;"></div>
<div style="left:546px;top:325px;width:1px;height:22px;background:#ffce0e;"></div>
<div style="left:547px;top:324px;width:84px;height:24px;background:#ED7D31;"></div>
<div style="left:548px;top:325px;width:82px;height:1px;background:#fb8b3f;"></div>
<div style="left:548px;top:346px;width:82px;height:1px;background:#fb8b3f;"></div>
<div style="left:548px;top:325px;width:1px;height:22px;background:#fb8b3f;"></div>
<div style="left:629px;top:325px;width:1px;height:22px;background:#fb8b3f;"></div>
<div style="left:630px;top:324px;width:85px;height:24px;background:#FFC000;"></div>
<div style="left:631px;top:325px;width:83px;height:1px;background:#ffce0e;"></div>
<div style="left:631px;top:346px;width:83px;height:1px;background:#ffce0e;"></div>
<div style="left:631px;top:325px;width:1px;height:22px;background:#ffce0e;"></div>
<div style="left:714px;top:324px;width:84px;height:24px;background:#FFC000;"></div>
<div style="left:715px;top:325px;width:82px;height:1px;background:#ffce0e;"></div>
<div style="left:715px;top:346px;width:82px;height:1px;background:#ffce0e;"></div>
<div style="left:715px;top:325px;width:1px;height:22px;background:#ffce0e;"></div>
<div style="left:796px;top:325px;width:1px;height:22px;background:#ffce0e;"></div>
<div style="left:797px;top:324px;width:84px;height:24px;background:#FFC000;"></div>
<div style="left:798px;top:325px;width:82px;height:1px;background:#ffce0e;"></div>
<div style="left:798px;top:346px;width:82px;height:1px;background:#ffce0e;"></div>
<div style="left:798px;top:325px;width:1px;height:22px;background:#ffce0e;"></div>
<div style="left:879px;top:325px;width:1px;height:22px;background:#ffce0e;"></div>
<div style="left:880px;top:324px;width:84px;height:24px;background:#FFC000;"></div>
<div style="left:881px;top:325px;width:82px;height:1px;background:#ffce0e;"></div>
<div style="left:881px;top:346px;width:82px;height:1px;background:#ffce0e;"></div>
<div style="left:881px;top:325px;width:1px;height:22px;background:#ffce0e;"></div>
<div style="left:962px;top:325px;width:1px;height:22px;background:#ffce0e;"></div>
<div style="left:16px;top:347px;width:199px;height:22px;background:#D9D9D9;"></div>
<div style="left:17px;top:348px;width:197px;height:1px;background:#f5f5f5;"></div>
<div style="left:17px;top:367px;width:197px;height:1px;background:#f5f5f5;"></div>
<div style="left:17px;top:348px;width:1px;height:20px;background:#f5f5f5;"></div>
<div style="left:213px;top:348px;width:1px;height:20px;background:#f5f5f5;"></div>
<div style="left:214px;top:347px;width:84px;height:22px;background:#FFFFFF;"></div>
<div style="left:215px;top:348px;width:82px;height:1px;background:#ffffff;"></div>
<div style="left:215px;top:367px;width:82px;height:1px;background:#ffffff;"></div>
<div style="left:215px;top:348px;width:1px;height:20px;background:#ffffff;"></div>
<div style="left:296px;top:348px;width:1px;height:20px;background:#ffffff;"></div>
<div style="left:297px;top:347px;width:85px;height:22px;background:#FFFFFF;"></div>
<div style="left:298px;top:348px;width:83px;height:1px;background:#ffffff;"></div>
<div style="left:298px;top:367px;width:83px;height:1px;background:#ffffff;"></div>
<div style="left:298px;top:348px;width:1px;height:20px;background:#ffffff;"></div>
<div style="left:380px;top:348px;width:1px;height:20px;background:#ffffff;"></div>
<div style="left:381px;top:347px;width:84px;height:22px;background:#FFFFFF;"></div>
<div style="left:382px;top:348px;width:82px;height:1px;background:#ffffff;"></div>
<div style="left:382px;top:367px;width:82px;height:1px;background:#ffffff;"></div>
<div style="left:382px;top:348px;width:1px;height:20px;background:#ffffff;"></div>
<div style="left:463px;top:348px;width:1px;height:20px;background:#ffffff;"></div>
<div style="left:464px;top:347px;width:84px;height:22px;background:#FFFFFF;"></div>
<div style="left:465px;top:348px;width:82px;height:1px;background:#ffffff;"></div>
<div style="left:465px;top:367px;width:82px;height:1px;background:#ffffff;"></div>
<div style="left:465px;top:348px;width:1px;height:20px;background:#ffffff;"></div>
<div style="left:546px;top:348px;width:1px;height:20px;background:#ffffff;"></div>
<div style="left:547px;top:347px;width:84px;height:22px;background:#FFFFFF;"></div>
<div style="left:548px;top:348px;width:82px;height:1px;background:#ffffff;"></div>
<div style="left:548px;top:367px;width:82px;height:1px;background:#ffffff;"></div>
<div style="left:548px;top:348px;width:1px;height:20px;background:#ffffff;"></div>
<div style="left:629px;top:348px;width:1px;height:20px;background:#ffffff;"></div>
<div style="left:630px;top:347px;width:85px;height:22px;background:#FFFFFF;"></div>
<div style="left:631px;top:348px;width:83px;height:1px;background:#ffffff;"></div>
<div style="left:631px;top:367px;width:83px;height:1px;background:#ffffff;"></div>
<div style="left:631px;top:348px;width:1px;height:20px;background:#ffffff;"></div>
<div style="left:714px;top:347px;width:84px;height:22px;background:#FFFFFF;"></div>
<div style="left:715px;top:348px;width:82px;height:1px;background:#ffffff;"></div>
<div style="left:715px;top:367px;width:82px;height:1px;background:#ffffff;"></div>
<div style="left:715px;top:348px;width:1px;height:20px;background:#ffffff;"></div>
<div style="left:796px;top:348px;width:1px;height:20px;background:#ffffff;"></div>
<div style="left:797px;top:347px;width:84px;height:22px;background:#FFFFFF;"></div>
<div style="left:798px;top:348px;width:82px;height:1px;background:#ffffff;"></div>
<div style="left:798px;top:367px;width:82px;height:1px;background:#ffffff;"></div>
<div style="left:798px;top:348px;width:1px;height:20px;background:#ffffff;"></div>
<div style="left:879px;top:348px;width:1px;height:20px;background:#ffffff;"></div>
<div style="left:880px;top:347px;width:84px;height:22px;background:#FFFFFF;"></div>
<div style="left:881px;top:348px;width:82px;height:1px;background:#ffffff;"></div>
<div style="left:881px;top:367px;width:82px;height:1px;background:#ffffff;"></div>
<div style="left:881px;top:348px;width:1px;height:20px;background:#ffffff;"></div>
<div style="left:962px;top:348px;width:1px;height:20px;background:#ffffff;"></div>
<div style="left:214px;top:83px;width:750px;height:1px;background:#0a0a0a;"></div>
<div style="left:214px;top:105px;width:750px;height:1px;background:rgba(0,0,0,0.8);"></div>
<div style="left:16px;top:128px;width:948px;height:1px;background:#0a0a0a;"></div>
<div style="left:16px;top:152px;width:948px;height:1px;background:#0a0a0a;"></div>
<div style="left:16px;top:175px;width:948px;height:1px;background:#0a0a0a;"></div>
<div style="left:16px;top:200px;width:948px;height:1px;background:#0a0a0a;"></div>
<div style="left:16px;top:221px;width:948px;height:1px;background:#0a0a0a;"></div>
<div style="left:16px;top:241px;width:948px;height:2px;background:rgba(0,0,0,0.42);"></div>
<div style="left:16px;top:262px;width:948px;height:2px;background:rgba(0,0,0,0.42);"></div>
<div style="left:16px;top:283px;width:948px;height:1px;background:#0a0a0a;"></div>
<div style="left:16px;top:304px;width:948px;height:1px;background:#0a0a0a;"></div>
<div style="left:16px;top:324px;width:948px;height:1px;background:rgba(0,0,0,0.78);"></div>
<div style="left:16px;top:347px;width:948px;height:1px;background:#0a0a0a;"></div>
<div style="left:16px;top:368px;width:948px;height:1px;background:#0a0a0a;"></div>
<div style="left:214px;top:83px;width:1px;height:286px;background:#0a0a0a;"></div>
<div style="left:297px;top:83px;width:1px;height:286px;background:#0a0a0a;"></div>
<div style="left:381px;top:83px;width:1px;height:286px;background:#0a0a0a;"></div>
<div style="left:464px;top:83px;width:1px;height:286px;background:#0a0a0a;"></div>
<div style="left:547px;top:83px;width:1px;height:286px;background:#0a0a0a;"></div>
<div style="left:630px;top:83px;width:1px;height:286px;background:#0a0a0a;"></div>
<div style="left:713px;top:83px;width:2px;height:286px;background:rgba(0,0,0,0.62);"></div>
<div style="left:797px;top:83px;width:1px;height:286px;background:#0a0a0a;"></div>
<div style="left:880px;top:83px;width:1px;height:286px;background:#0a0a0a;"></div>
<div style="left:963px;top:83px;width:1px;height:286px;background:rgba(0,0,0,0.6);"></div>
<div style="left:964px;top:83px;width:1px;height:286px;background:rgba(0,0,0,0.22);"></div>
<div style="left:16px;top:128px;width:1px;height:241px;background:#0a0a0a;"></div>
<div class="t" style="left:106.00px;width:300px;text-align:center;top:97.93px;font-size:13.2px;font-weight:normal;font-style:normal;color:#000"><span style="transform:scaleX(0.91);">FER</span></div>
<div class="t" style="left:106.00px;width:300px;text-align:center;top:119.93px;font-size:13.2px;font-weight:normal;font-style:normal;color:#000"><span style="transform:scaleX(0.88);">SC1</span></div>
<div class="t" style="left:189.50px;width:300px;text-align:center;top:97.93px;font-size:13.2px;font-weight:normal;font-style:normal;color:#000"><span style="transform:scaleX(0.91);">FER</span></div>
<div class="t" style="left:189.50px;width:300px;text-align:center;top:119.93px;font-size:13.2px;font-weight:normal;font-style:normal;color:#000"><span style="transform:scaleX(0.88);">SC2</span></div>
<div class="t" style="left:273.00px;width:300px;text-align:center;top:97.93px;font-size:13.2px;font-weight:normal;font-style:normal;color:#000"><span style="transform:scaleX(0.91);">FER</span></div>
<div class="t" style="left:273.00px;width:300px;text-align:center;top:119.93px;font-size:13.2px;font-weight:normal;font-style:normal;color:#000"><span style="transform:scaleX(0.88);">SC3</span></div>
<div class="t" style="left:356.00px;width:300px;text-align:center;top:97.93px;font-size:13.2px;font-weight:normal;font-style:normal;color:#000"><span style="transform:scaleX(0.99);">Tram</span></div>
<div class="t" style="left:356.00px;width:300px;text-align:center;top:119.93px;font-size:13.2px;font-weight:normal;font-style:normal;color:#000"><span style="transform:scaleX(0.88);">SC4</span></div>
<div class="t" style="left:439.00px;width:300px;text-align:center;top:97.93px;font-size:13.2px;font-weight:normal;font-style:normal;color:#000"><span style="transform:scaleX(0.99);">Tram</span></div>
<div class="t" style="left:439.00px;width:300px;text-align:center;top:119.93px;font-size:13.2px;font-weight:normal;font-style:normal;color:#000"><span style="transform:scaleX(0.88);">SC5</span></div>
<div class="t" style="left:522.50px;width:300px;text-align:center;top:97.93px;font-size:13.2px;font-weight:normal;font-style:normal;color:#000"><span style="transform:scaleX(0.99);">Tram</span></div>
<div class="t" style="left:522.50px;width:300px;text-align:center;top:119.93px;font-size:13.2px;font-weight:normal;font-style:normal;color:#000"><span style="transform:scaleX(0.88);">SC6</span></div>
<div class="t" style="left:606.00px;width:300px;text-align:center;top:97.93px;font-size:13.2px;font-weight:normal;font-style:normal;color:#000"><span style="transform:scaleX(0.82);">TCSP</span></div>
<div class="t" style="left:606.00px;width:300px;text-align:center;top:119.93px;font-size:13.2px;font-weight:normal;font-style:normal;color:#000"><span style="transform:scaleX(0.88);">SC7</span></div>
<div class="t" style="left:689.00px;width:300px;text-align:center;top:97.93px;font-size:13.2px;font-weight:normal;font-style:normal;color:#000"><span style="transform:scaleX(0.82);">TCSP</span></div>
<div class="t" style="left:689.00px;width:300px;text-align:center;top:119.93px;font-size:13.2px;font-weight:normal;font-style:normal;color:#000"><span style="transform:scaleX(0.88);">SC8</span></div>
<div class="t" style="left:772.00px;width:300px;text-align:center;top:97.93px;font-size:13.2px;font-weight:normal;font-style:normal;color:#000"><span style="transform:scaleX(0.82);">TCSP</span></div>
<div class="t" style="left:772.00px;width:300px;text-align:center;top:119.93px;font-size:13.2px;font-weight:normal;font-style:normal;color:#000"><span style="transform:scaleX(0.88);">SC9</span></div>
<div class="t r" style="left:-186.40px;width:400px;text-align:right;top:141.43px;font-size:13.2px;font-weight:bold;font-style:normal;color:#000;-webkit-text-stroke:0.25px currentColor"><span style="transform:scaleX(0.9013)">potentiel usagers global</span></div>
<div class="t" style="left:106.00px;width:300px;text-align:center;top:142.23px;font-size:13.2px;font-weight:normal;font-style:normal;color:#000"><span style="transform:scaleX(1.0);">8800</span></div>
<div class="t" style="left:189.50px;width:300px;text-align:center;top:142.23px;font-size:13.2px;font-weight:normal;font-style:normal;color:#fff"><span style="transform:scaleX(1.0);">10100</span></div>
<div class="t" style="left:273.00px;width:300px;text-align:center;top:142.23px;font-size:13.2px;font-weight:normal;font-style:normal;color:#fff"><span style="transform:scaleX(1.0);">10600</span></div>
<div class="t" style="left:356.00px;width:300px;text-align:center;top:142.23px;font-size:13.2px;font-weight:normal;font-style:normal;color:#fff"><span style="transform:scaleX(1.0);">10700</span></div>
<div class="t" style="left:439.00px;width:300px;text-align:center;top:142.23px;font-size:13.2px;font-weight:normal;font-style:normal;color:#fff"><span style="transform:scaleX(1.0);">10700</span></div>
<div class="t" style="left:522.50px;width:300px;text-align:center;top:142.23px;font-size:13.2px;font-weight:normal;font-style:normal;color:#fff"><span style="transform:scaleX(1.0);">10500</span></div>
<div class="t" style="left:606.00px;width:300px;text-align:center;top:142.23px;font-size:13.2px;font-weight:normal;font-style:normal;color:#fff"><span style="transform:scaleX(1.0);">10600</span></div>
<div class="t" style="left:689.00px;width:300px;text-align:center;top:142.23px;font-size:13.2px;font-weight:normal;font-style:normal;color:#fff"><span style="transform:scaleX(1.0);">10700</span></div>
<div class="t" style="left:772.00px;width:300px;text-align:center;top:142.23px;font-size:13.2px;font-weight:normal;font-style:normal;color:#fff"><span style="transform:scaleX(1.0);">10400</span></div>
<div class="t r" style="left:-186.40px;width:400px;text-align:right;top:165.93px;font-size:13.2px;font-weight:normal;font-style:italic;color:#000"><span style="transform:scaleX(0.9500)">potentiel usagers voyageurs</span></div>
<div class="t" style="left:106.00px;width:300px;text-align:center;top:168.33px;font-size:13.2px;font-weight:normal;font-style:normal;color:#000"><span style="transform:scaleX(1.0);">20%</span></div>
<div class="t" style="left:189.50px;width:300px;text-align:center;top:168.33px;font-size:13.2px;font-weight:normal;font-style:normal;color:#000"><span style="transform:scaleX(1.0);">26%</span></div>
<div class="t" style="left:273.00px;width:300px;text-align:center;top:168.33px;font-size:13.2px;font-weight:normal;font-style:normal;color:#fff"><span style="transform:scaleX(1.0);">28%</span></div>
<div class="t" style="left:356.00px;width:300px;text-align:center;top:168.33px;font-size:13.2px;font-weight:normal;font-style:normal;color:#000"><span style="transform:scaleX(1.0);">25%</span></div>
<div class="t" style="left:439.00px;width:300px;text-align:center;top:168.33px;font-size:13.2px;font-weight:normal;font-style:normal;color:#000"><span style="transform:scaleX(1.0);">26%</span></div>
<div class="t" style="left:522.50px;width:300px;text-align:center;top:168.33px;font-size:13.2px;font-weight:normal;font-style:normal;color:#000"><span style="transform:scaleX(1.0);">27%</span></div>
<div class="t" style="left:606.00px;width:300px;text-align:center;top:168.33px;font-size:13.2px;font-weight:normal;font-style:normal;color:#000"><span style="transform:scaleX(1.0);">26%</span></div>
<div class="t" style="left:689.00px;width:300px;text-align:center;top:168.33px;font-size:13.2px;font-weight:normal;font-style:normal;color:#000"><span style="transform:scaleX(1.0);">26%</span></div>
<div class="t" style="left:772.00px;width:300px;text-align:center;top:168.33px;font-size:13.2px;font-weight:normal;font-style:normal;color:#000"><span style="transform:scaleX(1.0);">26%</span></div>
<div class="t r" style="left:-186.40px;width:400px;text-align:right;top:188.93px;font-size:13.2px;font-weight:normal;font-style:italic;color:#000"><span style="transform:scaleX(0.9400)">potentiel usagers employés</span></div>
<div class="t" style="left:106.00px;width:300px;text-align:center;top:192.03px;font-size:13.2px;font-weight:normal;font-style:normal;color:#000"><span style="transform:scaleX(1.0);">9,3%</span></div>
<div class="t" style="left:189.50px;width:300px;text-align:center;top:192.03px;font-size:13.2px;font-weight:normal;font-style:normal;color:#000"><span style="transform:scaleX(1.0);">9,3%</span></div>
<div class="t" style="left:273.00px;width:300px;text-align:center;top:192.03px;font-size:13.2px;font-weight:normal;font-style:normal;color:#000"><span style="transform:scaleX(1.0);">9,5%</span></div>
<div class="t" style="left:356.00px;width:300px;text-align:center;top:192.03px;font-size:13.2px;font-weight:normal;font-style:normal;color:#fff"><span style="transform:scaleX(1.0);">10,6%</span></div>
<div class="t" style="left:439.00px;width:300px;text-align:center;top:192.03px;font-size:13.2px;font-weight:normal;font-style:normal;color:#fff"><span style="transform:scaleX(1.0);">10,3%</span></div>
<div class="t" style="left:522.50px;width:300px;text-align:center;top:192.03px;font-size:13.2px;font-weight:normal;font-style:normal;color:#000"><span style="transform:scaleX(1.0);">9,9%</span></div>
<div class="t" style="left:606.00px;width:300px;text-align:center;top:192.03px;font-size:13.2px;font-weight:normal;font-style:normal;color:#fff"><span style="transform:scaleX(1.0);">10,2%</span></div>
<div class="t" style="left:689.00px;width:300px;text-align:center;top:192.03px;font-size:13.2px;font-weight:normal;font-style:normal;color:#fff"><span style="transform:scaleX(1.0);">10,4%</span></div>
<div class="t" style="left:772.00px;width:300px;text-align:center;top:192.03px;font-size:13.2px;font-weight:normal;font-style:normal;color:#000"><span style="transform:scaleX(1.0);">9,7%</span></div>
<div class="t r" style="left:-186.40px;width:400px;text-align:right;top:211.73px;font-size:13.2px;font-weight:bold;font-style:normal;color:#000;-webkit-text-stroke:0.25px currentColor"><span style="transform:scaleX(0.9216)">attractivité globale</span></div>
<div class="t r" style="left:-186.40px;width:400px;text-align:right;top:233.63px;font-size:13.2px;font-weight:normal;font-style:italic;color:#000"><span style="transform:scaleX(0.9790)">attractivité NM IP</span></div>
<div class="t r" style="left:-186.40px;width:400px;text-align:right;top:254.03px;font-size:13.2px;font-weight:normal;font-style:italic;color:#000"><span style="transform:scaleX(0.9530)">attractivité SO</span></div>
<div class="t r" style="left:-186.40px;width:400px;text-align:right;top:274.83px;font-size:13.2px;font-weight:normal;font-style:italic;color:#000"><span style="transform:scaleX(0.9774)">attractivité voyageurs</span></div>
<div class="t r" style="left:-186.40px;width:400px;text-align:right;top:295.13px;font-size:13.2px;font-weight:bold;font-style:normal;color:#000;-webkit-text-stroke:0.25px currentColor"><span style="transform:scaleX(0.9138)">enjeux de réalisation</span></div>
<div class="t r" style="left:-186.40px;width:400px;text-align:right;top:316.33px;font-size:13.2px;font-weight:bold;font-style:normal;color:#000;-webkit-text-stroke:0.25px currentColor"><span style="transform:scaleX(0.8921)">coût d'investissement (hors socle)</span></div>
<div class="t" style="left:106.00px;width:300px;text-align:center;top:315.83px;font-size:13.2px;font-weight:bold;font-style:normal;color:#fff;-webkit-text-stroke:0.25px currentColor"><span style="transform:scaleX(1.0);letter-spacing:0.9px;padding-left:0.9px;">+30M€</span></div>
<div class="t" style="left:189.50px;width:300px;text-align:center;top:315.83px;font-size:13.2px;font-weight:bold;font-style:normal;color:#fff;-webkit-text-stroke:0.25px currentColor"><span style="transform:scaleX(1.0);letter-spacing:0.9px;padding-left:0.9px;">+270M€</span></div>
<div class="t" style="left:273.00px;width:300px;text-align:center;top:315.83px;font-size:13.2px;font-weight:bold;font-style:normal;color:#fff;-webkit-text-stroke:0.25px currentColor"><span style="transform:scaleX(1.0);letter-spacing:0.9px;padding-left:0.9px;">+230M€</span></div>
<div class="t" style="left:356.00px;width:300px;text-align:center;top:315.83px;font-size:13.2px;font-weight:bold;font-style:normal;color:#fff;-webkit-text-stroke:0.25px currentColor"><span style="transform:scaleX(1.0);letter-spacing:0.9px;padding-left:0.9px;">+140M€</span></div>
<div class="t" style="left:439.00px;width:300px;text-align:center;top:315.83px;font-size:13.2px;font-weight:bold;font-style:normal;color:#fff;-webkit-text-stroke:0.25px currentColor"><span style="transform:scaleX(1.0);letter-spacing:0.9px;padding-left:0.9px;">+360M€</span></div>
<div class="t" style="left:522.50px;width:300px;text-align:center;top:315.83px;font-size:13.2px;font-weight:bold;font-style:normal;color:#fff;-webkit-text-stroke:0.25px currentColor"><span style="transform:scaleX(1.0);letter-spacing:0.9px;padding-left:0.9px;">+170M€</span></div>
<div class="t" style="left:606.00px;width:300px;text-align:center;top:315.83px;font-size:13.2px;font-weight:bold;font-style:normal;color:#fff;-webkit-text-stroke:0.25px currentColor"><span style="transform:scaleX(1.0);letter-spacing:0.9px;padding-left:0.9px;">+80M€</span></div>
<div class="t" style="left:689.00px;width:300px;text-align:center;top:315.83px;font-size:13.2px;font-weight:bold;font-style:normal;color:#fff;-webkit-text-stroke:0.25px currentColor"><span style="transform:scaleX(1.0);letter-spacing:0.9px;padding-left:0.9px;">+60M€</span></div>
<div class="t" style="left:772.00px;width:300px;text-align:center;top:315.83px;font-size:13.2px;font-weight:bold;font-style:normal;color:#fff;-webkit-text-stroke:0.25px currentColor"><span style="transform:scaleX(1.0);letter-spacing:0.9px;padding-left:0.9px;">+40M€</span></div>
<div class="t r" style="left:-186.40px;width:400px;text-align:right;top:337.73px;font-size:13.2px;font-weight:bold;font-style:normal;color:#000;-webkit-text-stroke:0.25px currentColor"><span style="transform:scaleX(0.9169)">surcoût d'exploitation</span></div>
<div class="t" style="left:106.00px;width:300px;text-align:center;top:337.63px;font-size:13.2px;font-weight:bold;font-style:normal;color:#fff;-webkit-text-stroke:0.25px currentColor"><span style="transform:scaleX(1.0);letter-spacing:0.9px;padding-left:0.9px;">0,1M€</span></div>
<div class="t" style="left:189.50px;width:300px;text-align:center;top:337.63px;font-size:13.2px;font-weight:bold;font-style:normal;color:#fff;-webkit-text-stroke:0.25px currentColor"><span style="transform:scaleX(1.0);letter-spacing:0.9px;padding-left:0.9px;">10M€</span></div>
<div class="t" style="left:273.00px;width:300px;text-align:center;top:337.63px;font-size:13.2px;font-weight:bold;font-style:normal;color:#fff;-webkit-text-stroke:0.25px currentColor"><span style="transform:scaleX(1.0);letter-spacing:0.9px;padding-left:0.9px;">10M€</span></div>
<div class="t" style="left:356.00px;width:300px;text-align:center;top:337.63px;font-size:13.2px;font-weight:bold;font-style:normal;color:#fff;-webkit-text-stroke:0.25px currentColor"><span style="transform:scaleX(1.0);letter-spacing:0.9px;padding-left:0.9px;">5M€</span></div>
<div class="t" style="left:439.00px;width:300px;text-align:center;top:337.63px;font-size:13.2px;font-weight:bold;font-style:normal;color:#fff;-webkit-text-stroke:0.25px currentColor"><span style="transform:scaleX(1.0);letter-spacing:0.9px;padding-left:0.9px;">8M€</span></div>
<div class="t" style="left:522.50px;width:300px;text-align:center;top:337.63px;font-size:13.2px;font-weight:bold;font-style:normal;color:#fff;-webkit-text-stroke:0.25px currentColor"><span style="transform:scaleX(1.0);letter-spacing:0.9px;padding-left:0.9px;">3M€</span></div>
<div class="t" style="left:606.00px;width:300px;text-align:center;top:337.63px;font-size:13.2px;font-weight:bold;font-style:normal;color:#fff;-webkit-text-stroke:0.25px currentColor"><span style="transform:scaleX(1.0);letter-spacing:0.9px;padding-left:0.9px;">3M€</span></div>
<div class="t" style="left:689.00px;width:300px;text-align:center;top:337.63px;font-size:13.2px;font-weight:bold;font-style:normal;color:#fff;-webkit-text-stroke:0.25px currentColor"><span style="transform:scaleX(1.0);letter-spacing:0.9px;padding-left:0.9px;">3M€</span></div>
<div class="t" style="left:772.00px;width:300px;text-align:center;top:337.63px;font-size:13.2px;font-weight:bold;font-style:normal;color:#fff;-webkit-text-stroke:0.25px currentColor"><span style="transform:scaleX(1.0);letter-spacing:0.9px;padding-left:0.9px;">4M€</span></div>
<div class="t r" style="left:-186.40px;width:400px;text-align:right;top:359.13px;font-size:13.2px;font-weight:bold;font-style:normal;color:#000;-webkit-text-stroke:0.25px currentColor"><span style="transform:scaleX(0.9144)">délai de réalisation</span></div>
<div class="t" style="left:106.00px;width:300px;text-align:center;top:360.33px;font-size:13.2px;font-weight:normal;font-style:normal;color:#000"><span style="transform:scaleX(1.0);">moyen</span></div>
<div class="t" style="left:189.50px;width:300px;text-align:center;top:360.33px;font-size:13.2px;font-weight:normal;font-style:normal;color:#000"><span style="transform:scaleX(1.0);">long</span></div>
<div class="t" style="left:273.00px;width:300px;text-align:center;top:360.33px;font-size:13.2px;font-weight:normal;font-style:normal;color:#000"><span style="transform:scaleX(1.0);">long</span></div>
<div class="t" style="left:356.00px;width:300px;text-align:center;top:360.33px;font-size:13.2px;font-weight:normal;font-style:normal;color:#000"><span style="transform:scaleX(1.0);">moyen</span></div>
<div class="t" style="left:439.00px;width:300px;text-align:center;top:360.33px;font-size:13.2px;font-weight:normal;font-style:normal;color:#000"><span style="transform:scaleX(1.0);">long</span></div>
<div class="t" style="left:522.50px;width:300px;text-align:center;top:360.33px;font-size:13.2px;font-weight:normal;font-style:normal;color:#000"><span style="transform:scaleX(1.0);">long</span></div>
<div class="t" style="left:606.00px;width:300px;text-align:center;top:360.33px;font-size:13.2px;font-weight:normal;font-style:normal;color:#000"><span style="transform:scaleX(1.0);">long</span></div>
<div class="t" style="left:689.00px;width:300px;text-align:center;top:360.33px;font-size:13.2px;font-weight:normal;font-style:normal;color:#000"><span style="transform:scaleX(1.0);">moyen</span></div>
<div class="t" style="left:772.00px;width:300px;text-align:center;top:360.33px;font-size:13.2px;font-weight:normal;font-style:normal;color:#000"><span style="transform:scaleX(1.0);">moyen</span></div>
</div>
<div id="box" style="position:absolute;left:144.5px;top:407px;width:753.5px;height:62px;background:#BFBFBF;border-radius:9px;"></div>
<div id="boxtext" class="abs" style="left:155.2px;font-size:14.6px;font-weight:bold;color:#111;letter-spacing:0.1px">
<span style="top:429.54px">Les enjeux de réalisation et coûts sont prépondérants sur les écarts de bénéfices apportés (différences</span>
<span style="top:447.14px">de potentiel très faibles)</span>
</div>
</body></html>
